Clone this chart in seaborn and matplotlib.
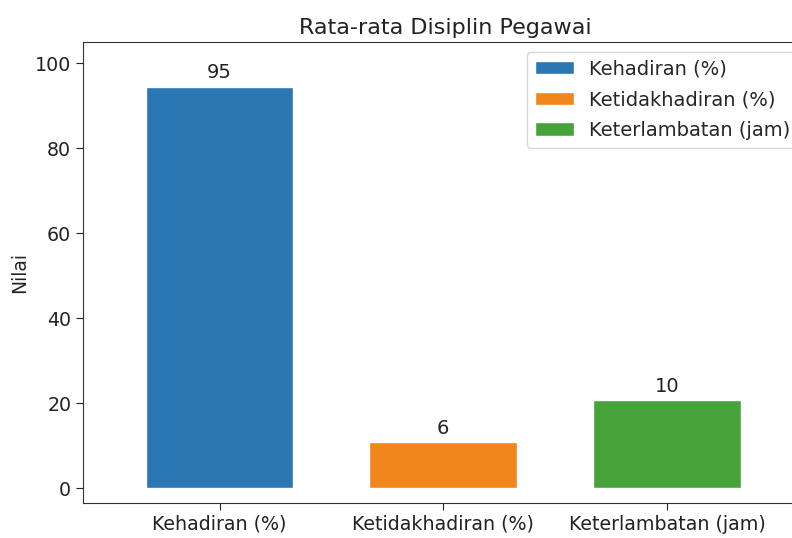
import matplotlib
matplotlib.use("Agg")
import matplotlib.pyplot as plt
import seaborn as sns

categories = ["Kehadiran (%)", "Ketidakhadiran (%)", "Keterlambatan (jam)"]
bar_heights = [94.5, 10.8, 20.8]
bar_labels = ["95", "6", "10"]
colors = ["#2a77b4", "#f0861c", "#45a33a"]

sns.set_style("white")
plt.rcParams["font.family"] = ["DejaVu Sans"]

fig = plt.figure(figsize=(7.92, 5.38), dpi=100)
ax = fig.add_axes([0.105, 0.065, 0.915, 0.857])

sns.barplot(x=categories, y=bar_heights, hue=categories, palette=colors,
            width=0.66, saturation=1, legend=True, ax=ax)

for container, lab in zip(ax.containers, bar_labels):
    ax.bar_label(container, labels=[lab], padding=3, fontsize=14, color="#222222")

ax.set_xlim(-0.61, 2.63)
ax.set_ylim(-3.5, 105)
ax.set_yticks([0, 20, 40, 60, 80, 100])
ax.set_title("Rata-rata Disiplin Pegawai", fontsize=16, color="#222222")
ax.set_ylabel("Nilai", fontsize=13.5, color="#222222")
ax.tick_params(axis="both", labelsize=13.7, colors="#222222", length=5, left=True, bottom=True)
for s in ax.spines.values():
    s.set_color("#333333")

ax.legend(loc="upper right", fontsize=14, frameon=True, borderaxespad=0.5,
          labelspacing=0.6)

fig.savefig("out.png", dpi=100)
